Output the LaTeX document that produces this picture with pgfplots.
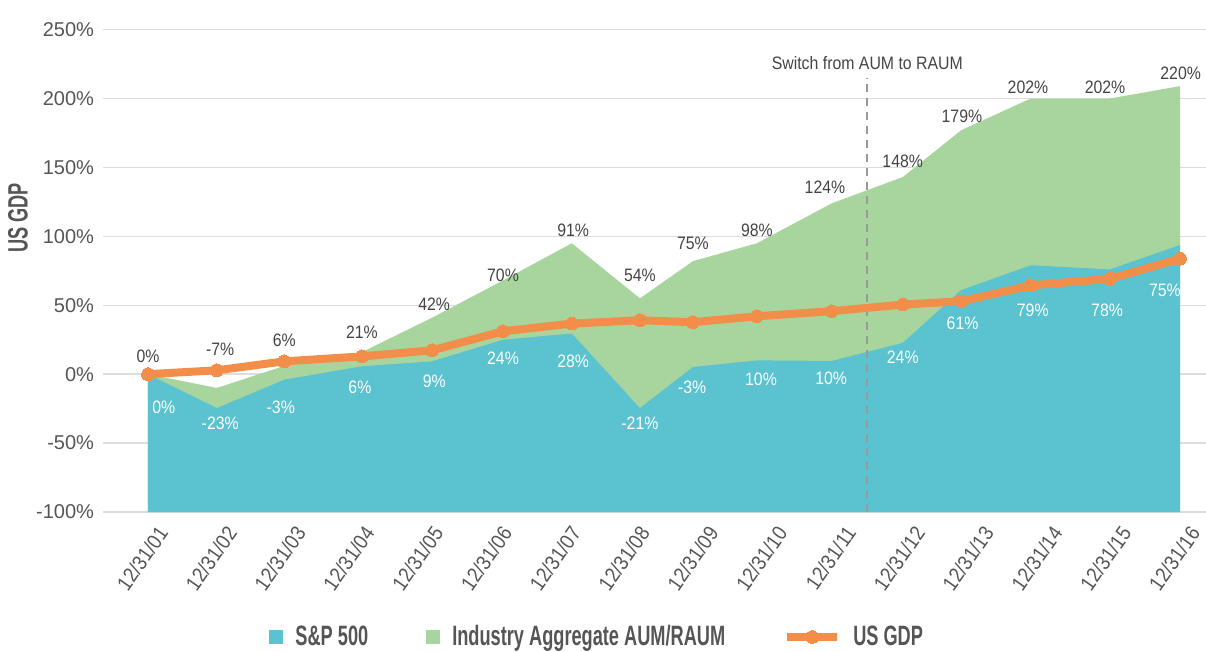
\documentclass[border=0pt]{standalone}
\usepackage{fontspec}
\setmainfont{Liberation Sans}
\newfontfamily\cond{Liberation Sans}[FakeStretch=0.65]
\newfontfamily\narrow{Liberation Sans}[FakeStretch=0.88]
\usepackage{pgfplots}
\pgfplotsset{compat=1.18}

\definecolor{spteal}{HTML}{5BC2D0}
\definecolor{indgreen}{HTML}{A8D59E}
\definecolor{gdporange}{HTML}{F28E4A}
\definecolor{txtgray}{HTML}{555555}
\definecolor{lblgray}{HTML}{444444}
\definecolor{gridgray}{HTML}{DDDDDD}
\definecolor{dashgray}{HTML}{999999}

\tikzset{vallabel/.style={font=\narrow\fontsize{9bp}{10bp}\selectfont}}
\pgfplotsset{
    sqlegend/.style={area legend,
        legend image code/.code={\fill[##1] (0bp,-3.5bp) rectangle (7bp,3.5bp);}},
    gdpstyle/.style={gdporange, line width=4bp, mark=*, mark size=3.2bp,
        mark options={fill=gdporange, draw=gdporange, line width=0bp}},
    linelegend/.style={legend image code/.code={\draw[##1, mark repeat=2, mark phase=2]
        plot coordinates {(0bp,0bp) (12.5bp,0bp) (25bp,0bp)};}},
}

\begin{document}
\begin{tikzpicture}
\useasboundingbox (-51.5bp,-70bp) rectangle (551.5bp,256bp);
\begin{axis}[
    at={(0,0)}, anchor=south west,
    scale only axis,
    width=551.5bp, height=241.2bp,
    xmin=-0.654, xmax=15.378,
    ymin=-100, ymax=250,
    axis line style={draw=none},
    major tick length=0pt,
    ymajorgrids,
    grid style={gridgray, line width=0.75bp},
    ytick={-100,-50,0,50,100,150,200,250},
    yticklabels={-100\%,-50\%,0\%,50\%,100\%,150\%,200\%,250\%},
    xtick={0,...,15},
    xticklabels={12/31/01,12/31/02,12/31/03,12/31/04,12/31/05,12/31/06,12/31/07,12/31/08,
                 12/31/09,12/31/10,12/31/11,12/31/12,12/31/13,12/31/14,12/31/15,12/31/16},
    yticklabel style={font=\fontsize{10bp}{12bp}\selectfont, text=txtgray, xshift=-1bp},
    xticklabel style={font=\narrow\fontsize{10.5bp}{12bp}\selectfont, text=txtgray,
                      xshift=9.5bp, yshift=-5.6bp, rotate=55, anchor=east},
    ylabel={US GDP},
    ylabel style={at={(axis description cs:-0.077,0.61)}, anchor=center,
                  font=\cond\bfseries\fontsize{14bp}{16bp}\selectfont, text=txtgray},
    legend columns=3,
    legend style={at={(axis description cs:0.449,-0.259)}, anchor=center,
                  draw=none, fill=none,
                  font=\cond\bfseries\fontsize{14bp}{16bp}\selectfont, text=txtgray,
                  /tikz/every odd column/.append style={column sep=4bp},
                  /tikz/every even column/.append style={column sep=27bp}},
    clip=false,
]
% industry aggregate, filled down to the axis floor
\addplot[draw=none, fill=indgreen, forget plot]
    coordinates {(0,-100) (0,0) (1.00,-10) (1.98,6) (3.11,16) (4.13,41) (5.16,68)
    (6.16,95) (7.15,55) (7.92,82) (8.85,95) (9.94,124) (10.97,143) (11.82,177)
    (12.83,200) (13.98,200) (15,209) (15,-100)};
% S&P 500
\addplot[draw=none, fill=spteal, forget plot]
    coordinates {(0,-100) (0,0) (1.00,-24.6) (1.98,-4) (3.11,5.7) (4.13,9.3) (5.16,25)
    (6.16,29.5) (7.15,-24.6) (7.92,5.2) (8.85,10) (9.94,9.6) (10.97,22.7) (11.82,61)
    (12.83,79) (13.98,76) (15,93.7) (15,-100)};

\draw[dashgray, line width=1bp, dash pattern=on 4bp off 3bp]
    (axis cs:10.455,-100) -- (axis cs:10.455,215);
\node[vallabel, text=lblgray] at (axis cs:10.455,226) {Switch from AUM to RAUM};

% US GDP
\addplot[gdpstyle, forget plot]
    coordinates {(0,0) (1.00,2.8) (1.98,9.3) (3.11,12.9) (4.13,17.3) (5.16,31.1)
    (6.16,36.7) (7.15,39.1) (7.92,37.7) (8.85,42) (9.94,45.7) (10.97,50.5)
    (11.82,52.9) (12.83,64.4) (13.98,69.2) (15,83.8)};

\addlegendimage{sqlegend, fill=spteal, draw=none}
\addlegendentry{S\&P 500}
\addlegendimage{sqlegend, fill=indgreen, draw=none}
\addlegendentry{Industry Aggregate AUM/RAUM}
\addlegendimage{gdpstyle, linelegend}
\addlegendentry{US GDP}

% value labels
\begin{scope}[every node/.style={vallabel, text=lblgray}]
\node at (axis cs:0,12.7) {0\%};
\node at (axis cs:1.05,17.8) {-7\%};
\node at (axis cs:1.98,24.4) {6\%};
\node at (axis cs:3.11,30.2) {21\%};
\node at (axis cs:4.16,50.5) {42\%};
\node at (axis cs:5.16,71.6) {70\%};
\node at (axis cs:6.18,104.4) {91\%};
\node at (axis cs:7.15,71.6) {54\%};
\node at (axis cs:7.92,94.9) {75\%};
\node at (axis cs:8.85,104.4) {98\%};
\node at (axis cs:9.84,135.6) {124\%};
\node at (axis cs:10.97,154.5) {148\%};
\node at (axis cs:11.83,187.3) {179\%};
\node at (axis cs:12.79,208.4) {202\%};
\node at (axis cs:13.91,208.4) {202\%};
\node at (axis cs:15.01,218.5) {220\%};
\end{scope}
\begin{scope}[every node/.style={vallabel, text=white}]
\node at (axis cs:0.23,-24.4) {0\%};
\node at (axis cs:1.05,-35.6) {-23\%};
\node at (axis cs:1.93,-24.4) {-3\%};
\node at (axis cs:3.08,-9.8) {6\%};
\node at (axis cs:4.16,-5.5) {9\%};
\node at (axis cs:5.16,11.3) {24\%};
\node at (axis cs:6.18,9.1) {28\%};
\node at (axis cs:7.15,-35.3) {-21\%};
\node at (axis cs:7.91,-9.8) {-3\%};
\node at (axis cs:8.91,-4) {10\%};
\node at (axis cs:9.93,-3.3) {10\%};
\node at (axis cs:10.97,12) {24\%};
\node at (axis cs:11.84,37) {61\%};
\node at (axis cs:12.86,46.5) {79\%};
\node at (axis cs:13.94,46.5) {78\%};
\node at (axis cs:14.78,60.7) {75\%};
\end{scope}
\end{axis}
\end{tikzpicture}
\end{document}
